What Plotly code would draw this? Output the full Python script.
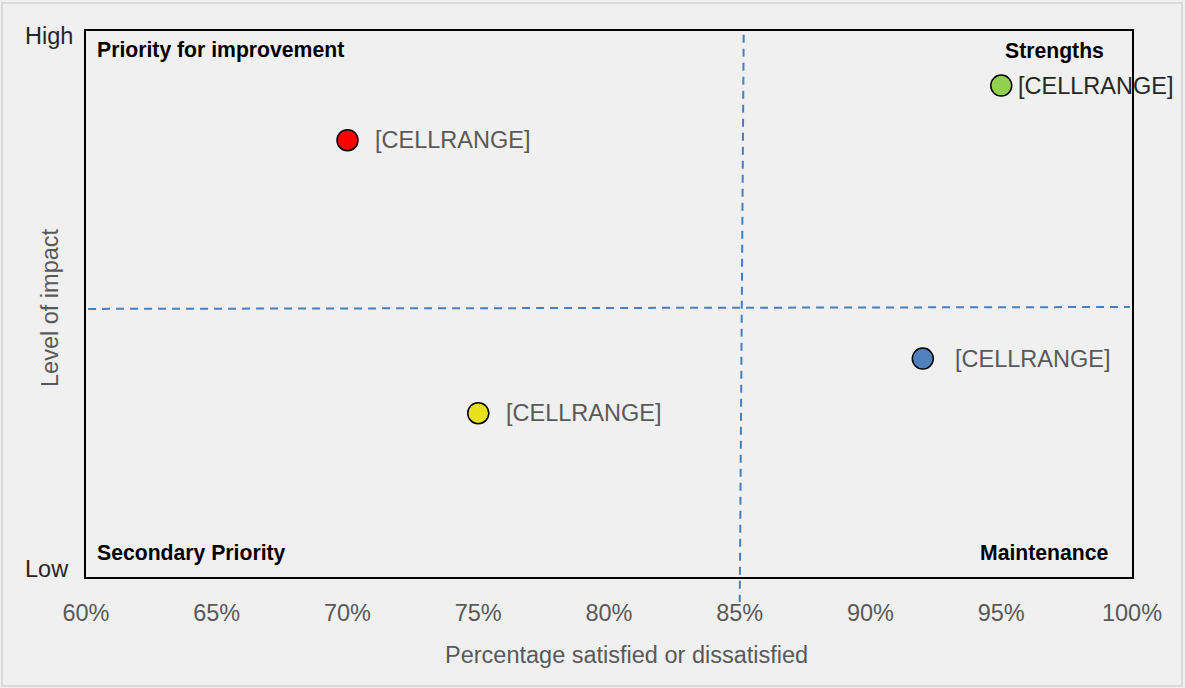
import plotly.graph_objects as go

# Data
labels = ["[CELLRANGE]", "[CELLRANGE]", "[CELLRANGE]", "[CELLRANGE]"]
pct = [0.70, 0.75, 0.92, 0.95]
impact = [8.0, 3.0, 4.0, 9.0]
colors = ["#FF0000", "#E8E21C", "#4F81BD", "#92D050"]
label_colors = ["#595959", "#595959", "#595959", "#262626"]
label_shift = [25, 26, 30, 15]

x_ticks = [0.60, 0.65, 0.70, 0.75, 0.80, 0.85, 0.90, 0.95, 1.00]
x_ticktext = ["60%", "65%", "70%", "75%", "80%", "85%", "90%", "95%", "100%"]
y_ticktext = ["Low", "High"]
y_tickpos = [0.015, 0.991]  # paper positions

quadrants = ["Priority for improvement", "Strengths", "Secondary Priority", "Maintenance"]

# Divider lines
h_line_x = [0.6008, 0.9992]
h_line_y = [4.91, 4.945]
v_line_x = [0.8515, 0.8500]

FONT = "Liberation Sans, Arial, sans-serif"
GRAY = "#595959"
DASH = "#4A7EBB"

fig = go.Figure()

fig.add_trace(go.Scatter(
    x=h_line_x, y=h_line_y, mode="lines",
    line=dict(color=DASH, width=2, dash="8px,6px"),
    hoverinfo="skip", showlegend=False,
))

fig.add_trace(go.Scatter(
    x=pct, y=impact, mode="markers",
    marker=dict(size=21, color=colors, line=dict(color="#000000", width=1.5)),
    showlegend=False,
))

shapes = [
    # outer light border
    dict(type="rect", xref="paper", yref="paper",
         x0=-0.0803, x1=1.0478, y0=-0.1996, y1=1.0513,
         line=dict(color="#D9D9D9", width=2), fillcolor="rgba(0,0,0,0)", layer="below"),
    # vertical dashed divider
    dict(type="line", xref="x", yref="paper",
         x0=v_line_x[0], x1=v_line_x[1], y0=0.993, y1=-0.046,
         line=dict(color=DASH, width=2, dash="8px,6px")),
]

annotations = []
for xv, yv, t, c, s in zip(pct, impact, labels, label_colors, label_shift):
    annotations.append(dict(x=xv, y=yv, xref="x", yref="y", text=t, showarrow=False,
                            xanchor="left", yanchor="middle", xshift=s,
                            font=dict(family=FONT, size=23.5, color=c)))

# quadrant labels
qpos = [(0.0086, 0.9652, "left"), (0.9752, 0.9634, "right"),
        (0.0086, 0.044, "left"), (0.9799, 0.044, "right")]
for t, (xp, yp, anc) in zip(quadrants, qpos):
    annotations.append(dict(x=xp, y=yp, xref="paper", yref="paper", text="<b>%s</b>" % t,
                            showarrow=False, xanchor=anc, yanchor="middle",
                            font=dict(family=FONT, size=21.2, color="#000000")))

# y tick labels High / Low
for t, yp in zip(y_ticktext, y_tickpos):
    annotations.append(dict(x=-0.0602, y=yp, xref="paper", yref="paper", text=t,
                            showarrow=False, xanchor="left", yanchor="middle",
                            font=dict(family=FONT, size=23.5, color="#262626")))

# axis titles
annotations.append(dict(x=-0.0344, y=0.4927, xref="paper", yref="paper", text="Level of impact",
                        showarrow=False, textangle=-90, xanchor="center", yanchor="middle",
                        font=dict(family=FONT, size=23.5, color=GRAY)))
annotations.append(dict(x=0.5163, y=-0.1429, xref="paper", yref="paper",
                        text="Percentage satisfied or dissatisfied",
                        showarrow=False, xanchor="center", yanchor="middle",
                        font=dict(family=FONT, size=23.5, color=GRAY)))

fig.update_layout(
    width=1185, height=688,
    margin=dict(l=86, r=53, t=31, b=111),
    paper_bgcolor="#F0F0F0", plot_bgcolor="#F0F0F0",
    font=dict(family=FONT),
    shapes=shapes, annotations=annotations,
    xaxis=dict(range=[0.6, 1.0], tickvals=x_ticks, ticktext=x_ticktext,
               showgrid=False, zeroline=False,
               showline=True, mirror=True, linecolor="#000000", linewidth=2,
               ticks="outside", ticklen=14, tickcolor="rgba(0,0,0,0)",
               tickfont=dict(family=FONT, size=23.5, color=GRAY)),
    yaxis=dict(range=[0, 10], showticklabels=False, showgrid=False, zeroline=False,
               showline=True, mirror=True, linecolor="#000000", linewidth=2, ticks=""),
    hovermode=False,
)

fig.write_html("out.html", config={"displayModeBar": False},
               post_script="document.body.style.margin='0px';document.body.style.overflow='hidden';")
